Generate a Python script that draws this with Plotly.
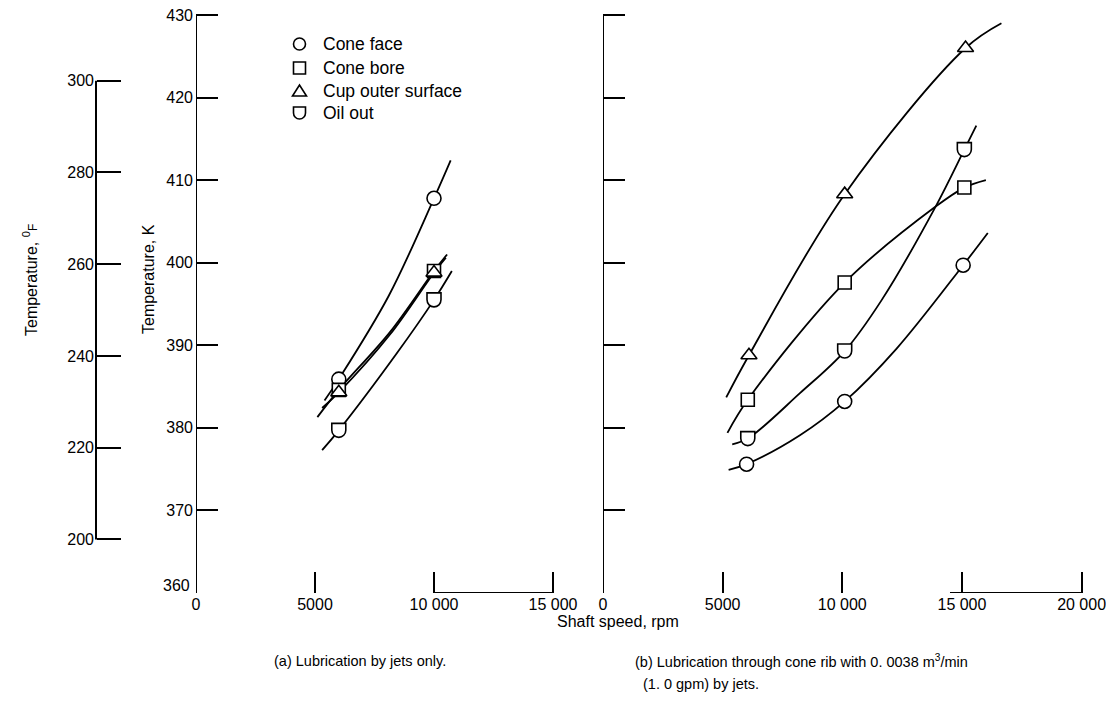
import plotly.graph_objects as go

W, H = 1106, 701

# ---------------- data ----------------
# (a) Lubrication by jets only
a_speed = [6000, 10000]
a_cone_face = [385.9, 407.8]
a_cone_bore = [384.6, 399.0]
a_cup_outer = [384.3, 398.8]
a_oil_out = [379.7, 395.5]

# faired curves in (a)
a_face_cx = [5400, 6000, 8100, 10000, 10700]
a_face_cy = [383.3, 385.9, 396.0, 407.8, 412.4]
a_bore_cx = [5100, 6000, 8150, 10000, 10550]
a_bore_cy = [381.3, 384.6, 391.6, 399.0, 401.0]
a_cup_cx = [5300, 6000, 8150, 10000, 10500]
a_cup_cy = [382.4, 384.3, 391.3, 398.8, 400.6]
a_oil_cx = [5300, 6000, 8430, 10000, 10750]
a_oil_cy = [377.3, 379.7, 389.0, 395.5, 399.0]

# (b) Lubrication through cone rib
b_face_x = [6000, 10100, 15050]
b_face_y = [375.6, 383.2, 399.7]
b_bore_x = [6050, 10100, 15100]
b_bore_y = [383.4, 397.6, 409.1]
b_cup_x = [6100, 10100, 15150]
b_cup_y = [388.8, 408.3, 426.0]
b_oil_x = [6050, 10100, 15100]
b_oil_y = [378.7, 389.3, 413.7]

# faired curves in (b)
b_face_cx = [5250, 6000, 8230, 10100, 12270, 15050, 16080]
b_face_cy = [374.9, 375.6, 379.1, 383.2, 389.6, 399.7, 403.6]
b_bore_cx = [5200, 6050, 10100, 13900, 15100, 16000]
b_bore_cy = [379.4, 383.4, 397.6, 406.8, 409.1, 410.0]
b_cup_cx = [5150, 6100, 10100, 15150, 16650]
b_cup_cy = [383.7, 388.8, 408.3, 426.0, 429.0]
b_oil_cx = [5400, 6050, 8230, 10100, 11650, 13900, 15100, 15600]
b_oil_cy = [378.0, 378.7, 384.2, 389.3, 395.5, 406.8, 413.7, 416.6]

k_ticks = [370, 380, 390, 400, 410, 420, 430]
f_ticks = [200, 220, 240, 260, 280, 300]
a_xticks = [0, 5000, 10000, 15000]
a_xlabels = ["0", "5000", "10 000", "15 000"]
b_xticks = [0, 5000, 10000, 15000, 20000]
b_xlabels = ["0", "5000", "10 000", "15 000", "20 000"]

legend_names = ["Cone face", "Cone bore", "Cup outer surface", "Oil out"]

# ---------------- geometry ----------------
FONT = "Liberation Sans, Arial, Helvetica, sans-serif"
TOP_PX, BOT_PX = 15, 593          # pixel rows of 430 K and 360 K
PPK = (BOT_PX - TOP_PX) / 70.0    # pixels per kelvin
K_LO, K_HI = 360, 431             # pad on top so the 430 tick is kept
F_LO, F_HI = 198, 302


def px(x):
    return x / W


def py(y):
    return 1 - y / H


def k_to_pix(k):
    return TOP_PX + (430 - k) * PPK


def f_to_k(f):
    return (f - 32) * 5 / 9 + 273.15


ydom = [py(k_to_pix(K_LO)), py(k_to_pix(K_HI))]
fdom = [py(k_to_pix(f_to_k(F_LO))), py(k_to_pix(f_to_k(F_HI)))]

# x geometry
A0, A_PER = 196.0, 357.0 / 15000     # panel (a): px of 0, px per rpm
B0, B_PER = 603.0, 478.6 / 20000     # panel (b)
A_HI = 15300
B_HI = 20400

fig = go.Figure()

LW = 1.8


def curve(x, y, xa, ya):
    fig.add_trace(go.Scatter(x=x, y=y, mode="lines", xaxis=xa, yaxis=ya,
                             line=dict(color="black", width=LW, shape="spline", smoothing=1.0),
                             showlegend=False, hoverinfo="skip"))


def marks(x, y, xa, ya, symbol, size):
    fig.add_trace(go.Scatter(x=x, y=y, mode="markers", xaxis=xa, yaxis=ya,
                             marker=dict(symbol=symbol, size=size, color="white",
                                         line=dict(color="black", width=1.6)),
                             showlegend=False, cliponaxis=False))


# dummy trace so the Fahrenheit axis is drawn (added first, underneath)
fig.add_trace(go.Scatter(x=[None], y=[None], xaxis="x", yaxis="y3", showlegend=False))

# curves (a)
curve(a_face_cx, a_face_cy, "x", "y")
curve(a_bore_cx, a_bore_cy, "x", "y")
curve(a_cup_cx, a_cup_cy, "x", "y")
curve(a_oil_cx, a_oil_cy, "x", "y")
# curves (b)
curve(b_face_cx, b_face_cy, "x2", "y2")
curve(b_bore_cx, b_bore_cy, "x2", "y2")
curve(b_cup_cx, b_cup_cy, "x2", "y2")
curve(b_oil_cx, b_oil_cy, "x2", "y2")

# markers
marks(a_speed, a_cone_face, "x", "y", "circle", 14)
marks(a_speed, a_cone_bore, "x", "y", "square", 13)
marks(a_speed, a_cup_outer, "x", "y", "triangle-up", 14)
marks(b_face_x, b_face_y, "x2", "y2", "circle", 14)
marks(b_bore_x, b_bore_y, "x2", "y2", "square", 13)
marks(b_cup_x, b_cup_y, "x2", "y2", "triangle-up", 14)


def d_path(r):
    k = 0.5523 * r
    return (f"M {-r},{r} L {r},{r} L {r},0 "
            f"C {r},{-k} {k},{-r} 0,{-r} "
            f"C {-k},{-r} {-r},{-k} {-r},0 Z")


shapes = []
AX = dict(color="black", width=2)
# axis lines (only over the labelled span, as in the original)
shapes.append(dict(type="line", xref="x", yref="y", x0=0, x1=0, y0=360, y1=430, line=AX))
shapes.append(dict(type="line", xref="x2", yref="y2", x0=0, x1=0, y0=360, y1=430, line=AX))
shapes.append(dict(type="line", xref="paper", yref="y3", x0=px(96), x1=px(96), y0=200, y1=300, line=AX))
# partial baselines as in the original
shapes.append(dict(type="line", xref="x", yref="y", x0=10000, x1=15000, y0=360, y1=360, line=AX))
shapes.append(dict(type="line", xref="x2", yref="y2", x0=14500, x1=20000, y0=360, y1=360, line=AX))

# oil-out markers (flat-topped half-round symbol)
for xs, ys, xr, yr in [(a_speed, a_oil_out, "x", "y"), (b_oil_x, b_oil_y, "x2", "y2")]:
    for xv, yv in zip(xs, ys):
        shapes.append(dict(type="path", xref=xr, yref=yr, xsizemode="pixel", ysizemode="pixel",
                           xanchor=xv, yanchor=yv, path=d_path(7),
                           line=dict(color="black", width=1.6), fillcolor="white"))

# legend icons
leg_x = 299.5
leg_y = [44, 68, 91, 113]
ic = dict(xref="paper", yref="paper", xsizemode="pixel", ysizemode="pixel",
          line=dict(color="black", width=1.6), fillcolor="white")
shapes.append(dict(type="circle", xanchor=px(leg_x), yanchor=py(leg_y[0]), x0=-6, x1=6, y0=-6, y1=6, **ic))
shapes.append(dict(type="rect", xanchor=px(leg_x), yanchor=py(leg_y[1]), x0=-6, x1=6, y0=-6, y1=6, **ic))
shapes.append(dict(type="path", xanchor=px(leg_x), yanchor=py(leg_y[2]),
                   path="M -7,-5 L 7,-5 L 0,6 Z", **ic))
shapes.append(dict(type="path", xanchor=px(leg_x), yanchor=py(leg_y[3]), path=d_path(6), **ic))

annotations = []
for name, yy in zip(legend_names, leg_y):
    annotations.append(dict(text=name, x=px(321), y=py(yy), xanchor="left",
                            font=dict(size=17.5, color="black", family=FONT)))

cap_font = dict(size=14.5, color="black", family=FONT)
annotations += [
    dict(text="Temperature, K", x=px(148), y=py(279), textangle=-90),
    dict(text="Temperature, <sup>0</sup><span style='font-size:12px'>F</span>",
         x=px(30), y=py(280), textangle=-90),
    dict(text="360", x=px(192), y=py(585), xanchor="right"),
    dict(text="Shaft speed, rpm", x=px(618), y=py(621)),
    dict(text="(a) Lubrication by jets only.", x=px(272), y=py(661), xanchor="left", font=cap_font),
    dict(text="(b) Lubrication through cone rib with 0. 0038 m<sup>3</sup>/min",
         x=px(633), y=py(661), xanchor="left", font=cap_font),
    dict(text="(1. 0 gpm) by jets.", x=px(641), y=py(684), xanchor="left", font=cap_font),
]
for a in annotations:
    a.setdefault("xref", "paper")
    a.setdefault("yref", "paper")
    a.setdefault("xanchor", "center")
    a.setdefault("yanchor", "middle")
    a.setdefault("showarrow", False)
    a.setdefault("font", dict(size=16, color="black", family=FONT))

tickfont = dict(size=16, color="black", family=FONT)
xcommon = dict(ticks="inside", ticklen=21, tickwidth=2, tickcolor="black",
               showline=False, showgrid=False, zeroline=False, tickfont=tickfont,
               tickmode="array", ticklabeloverflow="allow")
ycommon = dict(ticks="inside", ticklen=22, tickwidth=2, tickcolor="black",
               showline=False, showgrid=False, zeroline=False, tickfont=tickfont,
               tickmode="array", ticklabelstandoff=2)

fig.update_layout(
    width=W, height=H,
    margin=dict(l=0, r=0, t=0, b=0),
    paper_bgcolor="white", plot_bgcolor="rgba(0,0,0,0)",
    template="none",
    showlegend=False,
    font=dict(family=FONT, color="black", size=16),
    xaxis=dict(domain=[px(A0), px(A0 + A_HI * A_PER)], range=[0, A_HI], anchor="y",
               tickvals=a_xticks, ticktext=a_xlabels, **xcommon),
    xaxis2=dict(domain=[px(B0), px(B0 + B_HI * B_PER)], range=[0, B_HI], anchor="y2",
                tickvals=b_xticks, ticktext=b_xlabels, **xcommon),
    yaxis=dict(domain=ydom, range=[K_LO, K_HI], anchor="x", tickvals=k_ticks,
               ticktext=[str(v) for v in k_ticks], **ycommon),
    yaxis2=dict(domain=ydom, range=[K_LO, K_HI], anchor="x2", tickvals=k_ticks,
                showticklabels=False, **ycommon),
    yaxis3=dict(domain=fdom, range=[F_LO, F_HI], anchor="free", position=px(96),
                tickvals=f_ticks, ticktext=[str(v) for v in f_ticks],
                ticks="inside", ticklen=24, tickwidth=2, tickcolor="black",
                showline=False, showgrid=False, zeroline=False, tickfont=tickfont,
                tickmode="array", ticklabelstandoff=2),
    shapes=shapes,
    annotations=annotations,
)

fig.write_html("out.html")
